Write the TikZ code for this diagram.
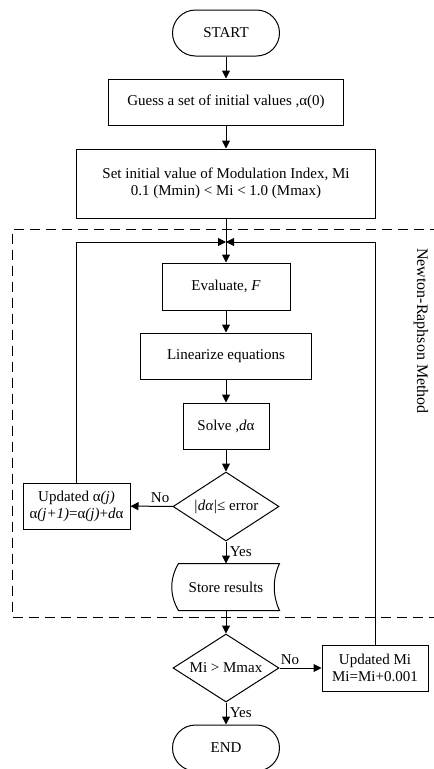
\documentclass[tikz,border=0pt]{standalone}
\usepackage{fontspec}
\setmainfont{Liberation Serif}
\usetikzlibrary{arrows.meta,shapes.geometric,calc}

\begin{document}
\begin{tikzpicture}[
    x=1pt, y=-1pt,
    font=\fontsize{15}{17}\selectfont,
    line width=1pt,
    term/.style={draw, rounded corners=23pt, minimum width=107pt, minimum height=46pt},
    proc/.style={draw, minimum height=46pt, align=center, inner sep=2pt},
    decide/.style={draw, diamond, aspect=1.54, inner sep=0pt, minimum width=106pt, minimum height=69pt},
    edge/.style={-{Triangle[length=8pt,width=8pt]}},
    region/.style={dash pattern=on 10pt off 6pt}
]
\useasboundingbox (0,0) rectangle (434,769);

% dashed Newton-Raphson region
\draw[region] (440,229) -- (12.6,229) -- (12.6,617) -- (440,617);
\node[rotate=-90, font=\fontsize{16}{18}\selectfont] (nrlabel) at (421,331) {Newton-Raphson Method};

\node[term] (start) at (226,33) {START};
\node[proc, minimum width=235pt] (guess) at (226,102) {Guess a set of initial values ,α(0)};
\node[proc, minimum width=299pt, minimum height=69pt] (setmi) at (226,183.5)
    {Set initial value of Modulation Index, Mi\\0.1 (Mmin) < Mi < 1.0 (Mmax)};
\node[proc, minimum width=128pt, minimum height=47pt] (eval) at (226,286.5) {Evaluate, \textit{F}};
\node[proc, minimum width=171pt] (lin) at (226,356) {Linearize equations};
\node[proc, minimum width=86pt] (solve) at (226,426) {Solve ,\textit{d}α};
\node[decide] (check) at (226,506.5) {\textit{|dα|}≤ error};
\node[proc, minimum width=107pt] (upalpha) at (76.5,506)
    {Updated α\textit{(j)}\\α\textit{(j+1)}=α\textit{(j)}+\textit{d}α};
\node[minimum width=106pt, minimum height=46pt] (store) at (226,587) {Store results};
\node[decide, minimum height=68pt] (mcheck) at (226,668) {Mi > Mmax};
\node[proc, minimum width=106pt] (upmi) at (375,668) {Updated Mi\\Mi=Mi+0.001};
\node[term] (stop) at (226,748) {END};

\coordinate (join) at (226,242);

% stored data outline
\draw ([xshift=6pt]store.north west) -- (store.north east)
    .. controls +(-7,15) and +(-7,-15) .. (store.south east)
    -- ([xshift=6pt]store.south west)
    .. controls +(-9,-15) and +(-9,15) .. ([xshift=6pt]store.north west) -- cycle;

\draw[edge] (start) -- (guess);
\draw[edge] (guess) -- (setmi);
\draw[edge] (setmi) -- (eval);
\draw[edge] (eval) -- (lin);
\draw[edge] (lin) -- (solve);
\draw[edge] (solve) -- (check);
\draw[edge] (check) -- node[above, pos=0.3] {No} (upalpha);
\draw[edge] (check) -- node[right, pos=0.45] {Yes} (store);
\draw[edge] (upalpha.north) |- (join);
\draw[edge] (store) -- (mcheck);
\draw[edge] (mcheck) -- node[above, pos=0.25] {No} (upmi);
\draw[edge] (upmi.north) |- (join);
\draw[edge] (mcheck) -- node[right, pos=0.45] {Yes} (stop);
\end{tikzpicture}
\end{document}
